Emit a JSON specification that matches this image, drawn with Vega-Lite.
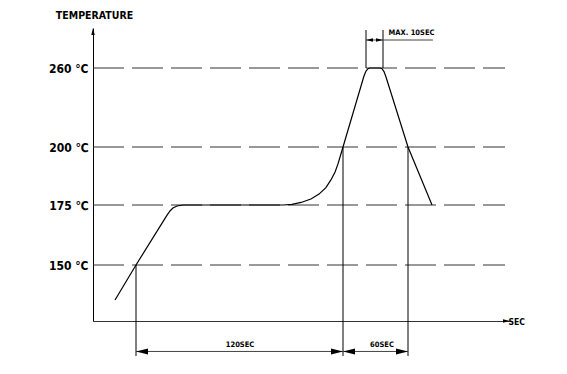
{
  "$schema": "https://vega.github.io/schema/vega-lite/v6.json",
  "width": 474,
  "height": 321,
  "autosize": "none",
  "padding": {"left": 93, "top": 0, "right": 0, "bottom": 53},
  "background": "white",
  "config": {"view": {"stroke": null}},
  "datasets": {
    "profile": [
      {"t": -12.2, "T": 134.4}, {"t": 0, "T": 150}, {"t": 18.0, "T": 170.8}, {"t": 19.7, "T": 172.5},
      {"t": 21.4, "T": 173.75}, {"t": 23.8, "T": 174.6}, {"t": 27.2, "T": 175}, {"t": 85.2, "T": 175},
      {"t": 90.4, "T": 175.3}, {"t": 95.7, "T": 176.1}, {"t": 101.4, "T": 177.6}, {"t": 106.1, "T": 179.7},
      {"t": 110.1, "T": 182.5}, {"t": 113.0, "T": 185.8}, {"t": 115.4, "T": 189.2}, {"t": 117.1, "T": 192.7},
      {"t": 118.8, "T": 197.0}, {"t": 120, "T": 200},
      {"t": 142.8, "T": 253.9}, {"t": 145, "T": 257.7}, {"t": 146.2, "T": 259.5}, {"t": 147.4, "T": 260},
      {"t": 153.2, "T": 260}, {"t": 154.4, "T": 259.5}, {"t": 156, "T": 257.3}, {"t": 158, "T": 253.2},
      {"t": 180, "T": 200}, {"t": 201.2, "T": 175}
    ],
    "levels": [
      {"t": -25, "t2": 265.6, "T": 150}, {"t": -25, "t2": 265.6, "T": 175},
      {"t": -25, "t2": 265.6, "T": 200}, {"t": -25, "t2": 265.6, "T": 260}
    ],
    "ext": [
      {"t": 0, "T": 150, "T2": 109.4},
      {"t": 120, "T": 200, "T2": 109.4},
      {"t": 180, "T": 200, "T2": 109.4},
      {"t": 145, "T": 260, "T2": 283.75},
      {"t": 155, "T": 260, "T2": 283.75}
    ],
    "dims": [
      {"t": 0, "t2": 180, "T": 111.4},
      {"t": 145, "t2": 202, "T": 277.5}
    ],
    "arrows": [
      {"t": 0, "T": 111.4, "dir": "left", "kind": "dim"},
      {"t": 120, "T": 111.4, "dir": "right", "kind": "dim"},
      {"t": 120, "T": 111.4, "dir": "left", "kind": "dim"},
      {"t": 180, "T": 111.4, "dir": "right", "kind": "dim"},
      {"t": 145, "T": 277.5, "dir": "left", "kind": "small"},
      {"t": 155, "T": 277.5, "dir": "right", "kind": "small"},
      {"t": 270, "T": 125, "dir": "right", "kind": "small"},
      {"t": -25, "T": 285, "dir": "up", "kind": "small"}
    ],
    "notes": [
      {"t": 60.3, "T": 114.3, "label": "120SEC"},
      {"t": 154.4, "T": 114.3, "label": "60SEC"},
      {"t": 183.1, "T": 281.9, "label": "MAX. 10SEC"}
    ]
  },
  "encoding": {
    "x": {
      "field": "t", "type": "quantitative",
      "scale": {"domain": [-25, 0, 120, 145, 155, 180, 270], "range": [0, 43, 250, 273, 290, 315, 417], "nice": false, "zero": false},
      "axis": {
        "title": "SEC", "titleX": 415, "titleY": 0, "titleAlign": "left", "titleBaseline": "middle", "titleAngle": 0,
        "titleFont": "DejaVu Sans Condensed, sans-serif", "titleFontSize": 8.5, "titleFontWeight": "bold", "titleColor": "black", "titlePadding": 0,
        "labels": false, "ticks": false, "grid": false, "domainColor": "#333", "domainWidth": 1
      }
    },
    "y": {
      "field": "T", "type": "quantitative",
      "scale": {"domain": [125, 150, 175, 200, 260, 285], "range": [321, 265, 205, 147, 68, 28], "nice": false, "zero": false},
      "axis": {
        "title": "TEMPERATURE", "titleAngle": 0, "titleX": 1, "titleY": 15, "titleAlign": "center", "titleBaseline": "middle",
        "titleFont": "DejaVu Sans Condensed, sans-serif", "titleFontSize": 10.5, "titleFontWeight": "bold", "titleColor": "black",
        "values": [150, 175, 200, 260],
        "labelExpr": "datum.value == 260 ? '260 °C' : datum.value == 200 ? '200 ℃' : datum.value == 175 ? '175 ℃' : '150 °C'",
        "labelFont": "DejaVu Sans Condensed, sans-serif", "labelFontSize": 12, "labelFontWeight": "bold", "labelColor": "black",
        "labelPadding": 5, "labelBaseline": "middle",
        "ticks": false, "grid": false, "domainColor": "black", "domainWidth": 1
      }
    }
  },
  "layer": [
    {
      "data": {"name": "levels"},
      "mark": {"type": "rule", "color": "#333", "strokeWidth": 1, "strokeDash": [31, 8]},
      "encoding": {"x2": {"field": "t2"}}
    },
    {
      "data": {"name": "ext"},
      "mark": {"type": "rule", "color": "black", "strokeWidth": 1},
      "encoding": {"y2": {"field": "T2"}}
    },
    {
      "data": {"name": "dims"},
      "mark": {"type": "rule", "color": "#444", "strokeWidth": 1},
      "encoding": {"x2": {"field": "t2"}}
    },
    {
      "data": {"name": "profile"},
      "mark": {"type": "line", "color": "black", "strokeWidth": 1.2, "interpolate": "linear"}
    },
    {
      "data": {"name": "arrows"},
      "mark": {"type": "point", "filled": true, "color": "black", "opacity": 1, "strokeWidth": 0},
      "encoding": {
        "shape": {"field": "dir", "type": "nominal", "legend": null,
          "scale": {"domain": ["left", "right", "up"], "range": ["M0,0L2,-0.5L2,0.5Z", "M0,0L-2,-0.5L-2,0.5Z", "M0,0L-0.5,2L0.5,2Z"]}},
        "size": {"field": "kind", "type": "nominal", "legend": null,
          "scale": {"domain": ["dim", "small"], "range": [144, 49]}}
      }
    },
    {
      "data": {"name": "notes"},
      "mark": {"type": "text", "font": "DejaVu Sans Condensed, sans-serif", "fontSize": 7.5, "fontWeight": "bold", "color": "black", "align": "center", "baseline": "middle"},
      "encoding": {"text": {"field": "label"}}
    }
  ]
}
